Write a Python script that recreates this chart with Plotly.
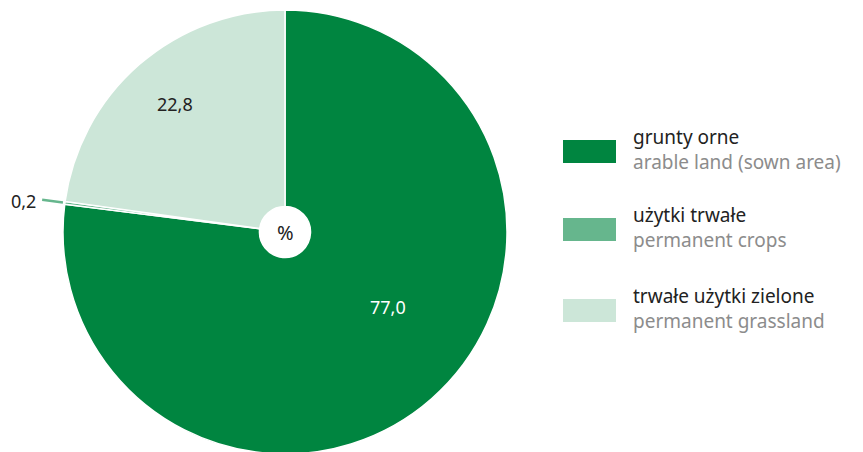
import math
import plotly.graph_objects as go

labels_pl = ["grunty orne", "użytki trwałe", "trwałe użytki zielone"]
labels_en = ["arable land (sown area)", "permanent crops", "permanent grassland"]
values = [77.0, 0.2, 22.8]
value_text = ["77,0", "0,2", "22,8"]
colors = ["#008540", "#66b68d", "#cce6d8"]

W, H = 863, 452
OFF = 8  # page body margin
cx, cy, R = 285 - OFF, 232 - OFF, 222


def px(x):
    return x / W


def py(y):
    return 1 - y / H


fig = go.Figure()
fig.add_trace(go.Pie(
    labels=labels_pl,
    values=values,
    marker=dict(colors=colors, line=dict(color="white", width=1.5)),
    sort=False,
    direction="clockwise",
    rotation=0,
    hole=0.115,
    textinfo="none",
    hoverinfo="label+value",
    showlegend=False,
    domain=dict(x=[px(cx - R), px(cx + R)], y=[py(cy + R), py(cy - R)]),
))

annotations = []


def note(x, y, text, size, color, xa="center", ya="middle"):
    annotations.append(dict(x=px(x), y=py(y), text=text, showarrow=False,
                            xanchor=xa, yanchor=ya,
                            font=dict(size=size, color=color)))


note(cx, cy, "%", 20, "#222222")
note(388 - OFF, 307 - OFF, value_text[0], 18, "white")
note(175 - OFF, 104 - OFF, value_text[2], 18, "#222222")

# leader line for the small slice, along its mid-angle ray
total = sum(values)
mid = (values[0] + values[1] / 2) / total * 2 * math.pi
dx, dy = math.sin(mid), -math.cos(mid)
x0, y0 = cx + (R + 2) * dx, cy + (R + 2) * dy
x1, y1 = cx + (R + 23) * dx, cy + (R + 23) * dy
shapes = [dict(type="line", xref="paper", yref="paper",
               x0=px(x0), y0=py(y0), x1=px(x1), y1=py(y1),
               line=dict(color=colors[1], width=2.5))]
note(x1 - 4, y1 + 1, value_text[1], 18, "#222222", xa="right")

# custom legend
rect_tops = [140, 218, 299]
for i in range(3):
    t = rect_tops[i] - OFF
    shapes.append(dict(type="rect", xref="paper", yref="paper",
                       x0=px(563 - OFF), x1=px(616 - OFF), y0=py(t), y1=py(t + 23),
                       fillcolor=colors[i], line=dict(width=0)))
    txt = (f"<span style='color:#222222'>{labels_pl[i]}</span><br>"
           f"<span style='color:#8c8c8c'>{labels_en[i]}</span>")
    annotations.append(dict(x=px(631 - OFF), y=py(t + 9), text=txt, showarrow=False,
                            xanchor="left", yanchor="middle", align="left",
                            font=dict(size=19, color="#222222")))

fig.update_layout(
    width=W, height=H,
    margin=dict(l=0, r=0, t=0, b=0),
    paper_bgcolor="white",
    plot_bgcolor="white",
    font=dict(family="Noto Sans, sans-serif"),
    shapes=shapes,
    annotations=annotations,
)

fig.write_html("out.html")
